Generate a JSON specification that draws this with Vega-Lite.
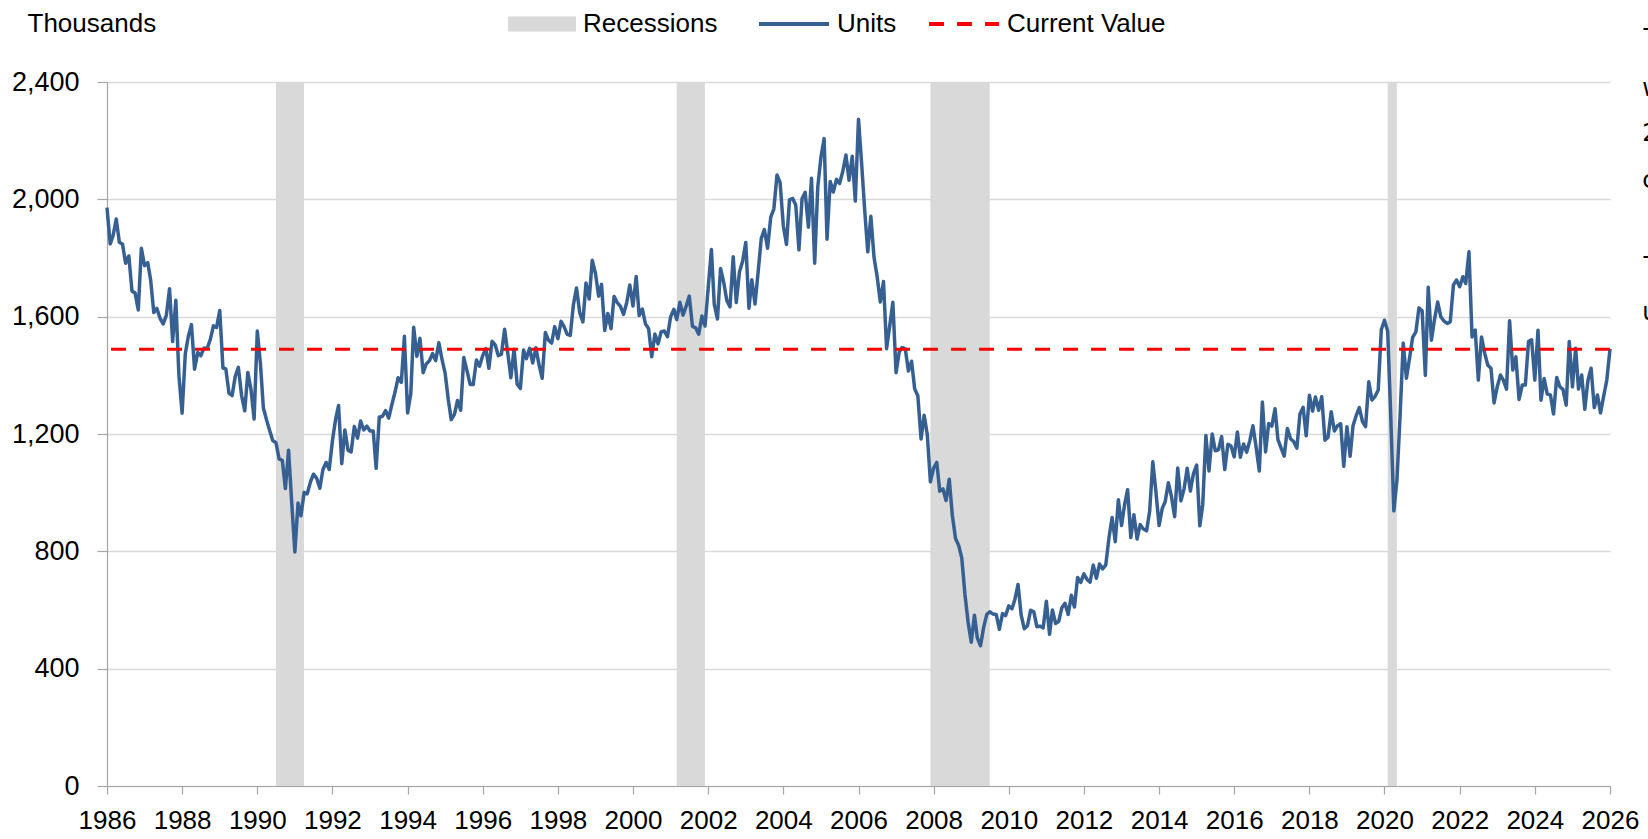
{
  "$schema": "https://vega.github.io/schema/vega-lite/v6.json",
  "width": 1503,
  "height": 704,
  "autosize": {"type": "none"},
  "padding": {"left": 107, "top": 82, "right": 38, "bottom": 53},
  "background": "white",
  "config": {
    "font": "Liberation Sans",
    "view": {"stroke": null},
    "legend": {"padding": 0, "labelFont": "Liberation Sans", "labelColor": "#000000"}
  },
  "datasets": {
    "rec": [
      {"start": "1990-07-01", "end": "1991-03-31", "s": "Recessions"},
      {"start": "2001-03-01", "end": "2001-11-30", "s": "Recessions"},
      {"start": "2007-12-01", "end": "2009-06-30", "s": "Recessions"},
      {"start": "2020-02-01", "end": "2020-04-30", "s": "Recessions"}
    ],
    "cur": [{"v": 1489, "s": "Current Value"}],
    "note": [
      {"d": "2026-11-10", "v": 2581, "t": "- Housing"},
      {"d": "2026-11-10", "v": 2376, "t": "were"},
      {"d": "2026-11-10", "v": 2223, "t": "2025"},
      {"d": "2026-11-10", "v": 2062, "t": "compared"},
      {"d": "2026-11-10", "v": 1803, "t": "- The"},
      {"d": "2026-11-10", "v": 1612, "t": "units"}
    ],
    "units": [
      {"d":"1986-01","v":1972,"s":"Units"},{"d":"1986-02","v":1848,"s":"Units"},{"d":"1986-03","v":1876,"s":"Units"},{"d":"1986-04","v":1933,"s":"Units"},{"d":"1986-05","v":1854,"s":"Units"},{"d":"1986-06","v":1847,"s":"Units"},{"d":"1986-07","v":1782,"s":"Units"},{"d":"1986-08","v":1807,"s":"Units"},{"d":"1986-09","v":1687,"s":"Units"},{"d":"1986-10","v":1681,"s":"Units"},{"d":"1986-11","v":1623,"s":"Units"},{"d":"1986-12","v":1833,"s":"Units"},
      {"d":"1987-01","v":1774,"s":"Units"},{"d":"1987-02","v":1784,"s":"Units"},{"d":"1987-03","v":1726,"s":"Units"},{"d":"1987-04","v":1614,"s":"Units"},{"d":"1987-05","v":1628,"s":"Units"},{"d":"1987-06","v":1594,"s":"Units"},{"d":"1987-07","v":1575,"s":"Units"},{"d":"1987-08","v":1605,"s":"Units"},{"d":"1987-09","v":1695,"s":"Units"},{"d":"1987-10","v":1515,"s":"Units"},{"d":"1987-11","v":1656,"s":"Units"},{"d":"1987-12","v":1400,"s":"Units"},
      {"d":"1988-01","v":1271,"s":"Units"},{"d":"1988-02","v":1473,"s":"Units"},{"d":"1988-03","v":1532,"s":"Units"},{"d":"1988-04","v":1573,"s":"Units"},{"d":"1988-05","v":1421,"s":"Units"},{"d":"1988-06","v":1478,"s":"Units"},{"d":"1988-07","v":1467,"s":"Units"},{"d":"1988-08","v":1493,"s":"Units"},{"d":"1988-09","v":1492,"s":"Units"},{"d":"1988-10","v":1522,"s":"Units"},{"d":"1988-11","v":1569,"s":"Units"},{"d":"1988-12","v":1563,"s":"Units"},
      {"d":"1989-01","v":1621,"s":"Units"},{"d":"1989-02","v":1425,"s":"Units"},{"d":"1989-03","v":1422,"s":"Units"},{"d":"1989-04","v":1339,"s":"Units"},{"d":"1989-05","v":1331,"s":"Units"},{"d":"1989-06","v":1397,"s":"Units"},{"d":"1989-07","v":1427,"s":"Units"},{"d":"1989-08","v":1332,"s":"Units"},{"d":"1989-09","v":1279,"s":"Units"},{"d":"1989-10","v":1410,"s":"Units"},{"d":"1989-11","v":1351,"s":"Units"},{"d":"1989-12","v":1251,"s":"Units"},
      {"d":"1990-01","v":1551,"s":"Units"},{"d":"1990-02","v":1437,"s":"Units"},{"d":"1990-03","v":1289,"s":"Units"},{"d":"1990-04","v":1248,"s":"Units"},{"d":"1990-05","v":1212,"s":"Units"},{"d":"1990-06","v":1177,"s":"Units"},{"d":"1990-07","v":1171,"s":"Units"},{"d":"1990-08","v":1115,"s":"Units"},{"d":"1990-09","v":1110,"s":"Units"},{"d":"1990-10","v":1014,"s":"Units"},{"d":"1990-11","v":1145,"s":"Units"},{"d":"1990-12","v":969,"s":"Units"},
      {"d":"1991-01","v":798,"s":"Units"},{"d":"1991-02","v":965,"s":"Units"},{"d":"1991-03","v":921,"s":"Units"},{"d":"1991-04","v":1001,"s":"Units"},{"d":"1991-05","v":996,"s":"Units"},{"d":"1991-06","v":1036,"s":"Units"},{"d":"1991-07","v":1063,"s":"Units"},{"d":"1991-08","v":1049,"s":"Units"},{"d":"1991-09","v":1015,"s":"Units"},{"d":"1991-10","v":1079,"s":"Units"},{"d":"1991-11","v":1103,"s":"Units"},{"d":"1991-12","v":1079,"s":"Units"},
      {"d":"1992-01","v":1176,"s":"Units"},{"d":"1992-02","v":1250,"s":"Units"},{"d":"1992-03","v":1297,"s":"Units"},{"d":"1992-04","v":1099,"s":"Units"},{"d":"1992-05","v":1214,"s":"Units"},{"d":"1992-06","v":1145,"s":"Units"},{"d":"1992-07","v":1139,"s":"Units"},{"d":"1992-08","v":1226,"s":"Units"},{"d":"1992-09","v":1186,"s":"Units"},{"d":"1992-10","v":1244,"s":"Units"},{"d":"1992-11","v":1214,"s":"Units"},{"d":"1992-12","v":1227,"s":"Units"},
      {"d":"1993-01","v":1210,"s":"Units"},{"d":"1993-02","v":1210,"s":"Units"},{"d":"1993-03","v":1083,"s":"Units"},{"d":"1993-04","v":1258,"s":"Units"},{"d":"1993-05","v":1260,"s":"Units"},{"d":"1993-06","v":1280,"s":"Units"},{"d":"1993-07","v":1254,"s":"Units"},{"d":"1993-08","v":1300,"s":"Units"},{"d":"1993-09","v":1343,"s":"Units"},{"d":"1993-10","v":1392,"s":"Units"},{"d":"1993-11","v":1376,"s":"Units"},{"d":"1993-12","v":1533,"s":"Units"},
      {"d":"1994-01","v":1272,"s":"Units"},{"d":"1994-02","v":1337,"s":"Units"},{"d":"1994-03","v":1564,"s":"Units"},{"d":"1994-04","v":1465,"s":"Units"},{"d":"1994-05","v":1526,"s":"Units"},{"d":"1994-06","v":1409,"s":"Units"},{"d":"1994-07","v":1439,"s":"Units"},{"d":"1994-08","v":1450,"s":"Units"},{"d":"1994-09","v":1474,"s":"Units"},{"d":"1994-10","v":1450,"s":"Units"},{"d":"1994-11","v":1511,"s":"Units"},{"d":"1994-12","v":1455,"s":"Units"},
      {"d":"1995-01","v":1407,"s":"Units"},{"d":"1995-02","v":1316,"s":"Units"},{"d":"1995-03","v":1249,"s":"Units"},{"d":"1995-04","v":1267,"s":"Units"},{"d":"1995-05","v":1314,"s":"Units"},{"d":"1995-06","v":1281,"s":"Units"},{"d":"1995-07","v":1461,"s":"Units"},{"d":"1995-08","v":1416,"s":"Units"},{"d":"1995-09","v":1369,"s":"Units"},{"d":"1995-10","v":1369,"s":"Units"},{"d":"1995-11","v":1452,"s":"Units"},{"d":"1995-12","v":1431,"s":"Units"},
      {"d":"1996-01","v":1467,"s":"Units"},{"d":"1996-02","v":1491,"s":"Units"},{"d":"1996-03","v":1424,"s":"Units"},{"d":"1996-04","v":1516,"s":"Units"},{"d":"1996-05","v":1504,"s":"Units"},{"d":"1996-06","v":1467,"s":"Units"},{"d":"1996-07","v":1472,"s":"Units"},{"d":"1996-08","v":1557,"s":"Units"},{"d":"1996-09","v":1475,"s":"Units"},{"d":"1996-10","v":1392,"s":"Units"},{"d":"1996-11","v":1489,"s":"Units"},{"d":"1996-12","v":1370,"s":"Units"},
      {"d":"1997-01","v":1355,"s":"Units"},{"d":"1997-02","v":1486,"s":"Units"},{"d":"1997-03","v":1457,"s":"Units"},{"d":"1997-04","v":1492,"s":"Units"},{"d":"1997-05","v":1442,"s":"Units"},{"d":"1997-06","v":1494,"s":"Units"},{"d":"1997-07","v":1437,"s":"Units"},{"d":"1997-08","v":1390,"s":"Units"},{"d":"1997-09","v":1546,"s":"Units"},{"d":"1997-10","v":1520,"s":"Units"},{"d":"1997-11","v":1510,"s":"Units"},{"d":"1997-12","v":1566,"s":"Units"},
      {"d":"1998-01","v":1525,"s":"Units"},{"d":"1998-02","v":1584,"s":"Units"},{"d":"1998-03","v":1567,"s":"Units"},{"d":"1998-04","v":1540,"s":"Units"},{"d":"1998-05","v":1536,"s":"Units"},{"d":"1998-06","v":1641,"s":"Units"},{"d":"1998-07","v":1698,"s":"Units"},{"d":"1998-08","v":1614,"s":"Units"},{"d":"1998-09","v":1582,"s":"Units"},{"d":"1998-10","v":1715,"s":"Units"},{"d":"1998-11","v":1660,"s":"Units"},{"d":"1998-12","v":1792,"s":"Units"},
      {"d":"1999-01","v":1748,"s":"Units"},{"d":"1999-02","v":1670,"s":"Units"},{"d":"1999-03","v":1710,"s":"Units"},{"d":"1999-04","v":1553,"s":"Units"},{"d":"1999-05","v":1611,"s":"Units"},{"d":"1999-06","v":1559,"s":"Units"},{"d":"1999-07","v":1669,"s":"Units"},{"d":"1999-08","v":1648,"s":"Units"},{"d":"1999-09","v":1635,"s":"Units"},{"d":"1999-10","v":1608,"s":"Units"},{"d":"1999-11","v":1648,"s":"Units"},{"d":"1999-12","v":1708,"s":"Units"},
      {"d":"2000-01","v":1636,"s":"Units"},{"d":"2000-02","v":1737,"s":"Units"},{"d":"2000-03","v":1604,"s":"Units"},{"d":"2000-04","v":1626,"s":"Units"},{"d":"2000-05","v":1575,"s":"Units"},{"d":"2000-06","v":1559,"s":"Units"},{"d":"2000-07","v":1463,"s":"Units"},{"d":"2000-08","v":1541,"s":"Units"},{"d":"2000-09","v":1507,"s":"Units"},{"d":"2000-10","v":1549,"s":"Units"},{"d":"2000-11","v":1551,"s":"Units"},{"d":"2000-12","v":1532,"s":"Units"},
      {"d":"2001-01","v":1600,"s":"Units"},{"d":"2001-02","v":1625,"s":"Units"},{"d":"2001-03","v":1590,"s":"Units"},{"d":"2001-04","v":1649,"s":"Units"},{"d":"2001-05","v":1605,"s":"Units"},{"d":"2001-06","v":1636,"s":"Units"},{"d":"2001-07","v":1670,"s":"Units"},{"d":"2001-08","v":1567,"s":"Units"},{"d":"2001-09","v":1562,"s":"Units"},{"d":"2001-10","v":1540,"s":"Units"},{"d":"2001-11","v":1602,"s":"Units"},{"d":"2001-12","v":1568,"s":"Units"},
      {"d":"2002-01","v":1698,"s":"Units"},{"d":"2002-02","v":1829,"s":"Units"},{"d":"2002-03","v":1642,"s":"Units"},{"d":"2002-04","v":1592,"s":"Units"},{"d":"2002-05","v":1764,"s":"Units"},{"d":"2002-06","v":1717,"s":"Units"},{"d":"2002-07","v":1655,"s":"Units"},{"d":"2002-08","v":1633,"s":"Units"},{"d":"2002-09","v":1804,"s":"Units"},{"d":"2002-10","v":1648,"s":"Units"},{"d":"2002-11","v":1753,"s":"Units"},{"d":"2002-12","v":1788,"s":"Units"},
      {"d":"2003-01","v":1853,"s":"Units"},{"d":"2003-02","v":1629,"s":"Units"},{"d":"2003-03","v":1726,"s":"Units"},{"d":"2003-04","v":1643,"s":"Units"},{"d":"2003-05","v":1751,"s":"Units"},{"d":"2003-06","v":1867,"s":"Units"},{"d":"2003-07","v":1897,"s":"Units"},{"d":"2003-08","v":1833,"s":"Units"},{"d":"2003-09","v":1939,"s":"Units"},{"d":"2003-10","v":1967,"s":"Units"},{"d":"2003-11","v":2083,"s":"Units"},{"d":"2003-12","v":2057,"s":"Units"},
      {"d":"2004-01","v":1911,"s":"Units"},{"d":"2004-02","v":1846,"s":"Units"},{"d":"2004-03","v":1998,"s":"Units"},{"d":"2004-04","v":2003,"s":"Units"},{"d":"2004-05","v":1981,"s":"Units"},{"d":"2004-06","v":1828,"s":"Units"},{"d":"2004-07","v":2002,"s":"Units"},{"d":"2004-08","v":2024,"s":"Units"},{"d":"2004-09","v":1905,"s":"Units"},{"d":"2004-10","v":2072,"s":"Units"},{"d":"2004-11","v":1782,"s":"Units"},{"d":"2004-12","v":2042,"s":"Units"},
      {"d":"2005-01","v":2144,"s":"Units"},{"d":"2005-02","v":2207,"s":"Units"},{"d":"2005-03","v":1864,"s":"Units"},{"d":"2005-04","v":2061,"s":"Units"},{"d":"2005-05","v":2025,"s":"Units"},{"d":"2005-06","v":2068,"s":"Units"},{"d":"2005-07","v":2054,"s":"Units"},{"d":"2005-08","v":2095,"s":"Units"},{"d":"2005-09","v":2151,"s":"Units"},{"d":"2005-10","v":2065,"s":"Units"},{"d":"2005-11","v":2147,"s":"Units"},{"d":"2005-12","v":1994,"s":"Units"},
      {"d":"2006-01","v":2273,"s":"Units"},{"d":"2006-02","v":2119,"s":"Units"},{"d":"2006-03","v":1969,"s":"Units"},{"d":"2006-04","v":1821,"s":"Units"},{"d":"2006-05","v":1942,"s":"Units"},{"d":"2006-06","v":1802,"s":"Units"},{"d":"2006-07","v":1737,"s":"Units"},{"d":"2006-08","v":1650,"s":"Units"},{"d":"2006-09","v":1720,"s":"Units"},{"d":"2006-10","v":1491,"s":"Units"},{"d":"2006-11","v":1570,"s":"Units"},{"d":"2006-12","v":1649,"s":"Units"},
      {"d":"2007-01","v":1409,"s":"Units"},{"d":"2007-02","v":1480,"s":"Units"},{"d":"2007-03","v":1495,"s":"Units"},{"d":"2007-04","v":1490,"s":"Units"},{"d":"2007-05","v":1415,"s":"Units"},{"d":"2007-06","v":1448,"s":"Units"},{"d":"2007-07","v":1354,"s":"Units"},{"d":"2007-08","v":1330,"s":"Units"},{"d":"2007-09","v":1183,"s":"Units"},{"d":"2007-10","v":1264,"s":"Units"},{"d":"2007-11","v":1197,"s":"Units"},{"d":"2007-12","v":1037,"s":"Units"},
      {"d":"2008-01","v":1084,"s":"Units"},{"d":"2008-02","v":1103,"s":"Units"},{"d":"2008-03","v":1005,"s":"Units"},{"d":"2008-04","v":1013,"s":"Units"},{"d":"2008-05","v":973,"s":"Units"},{"d":"2008-06","v":1046,"s":"Units"},{"d":"2008-07","v":923,"s":"Units"},{"d":"2008-08","v":844,"s":"Units"},{"d":"2008-09","v":820,"s":"Units"},{"d":"2008-10","v":777,"s":"Units"},{"d":"2008-11","v":652,"s":"Units"},{"d":"2008-12","v":560,"s":"Units"},
      {"d":"2009-01","v":490,"s":"Units"},{"d":"2009-02","v":582,"s":"Units"},{"d":"2009-03","v":505,"s":"Units"},{"d":"2009-04","v":478,"s":"Units"},{"d":"2009-05","v":540,"s":"Units"},{"d":"2009-06","v":585,"s":"Units"},{"d":"2009-07","v":594,"s":"Units"},{"d":"2009-08","v":586,"s":"Units"},{"d":"2009-09","v":585,"s":"Units"},{"d":"2009-10","v":534,"s":"Units"},{"d":"2009-11","v":588,"s":"Units"},{"d":"2009-12","v":581,"s":"Units"},
      {"d":"2010-01","v":614,"s":"Units"},{"d":"2010-02","v":604,"s":"Units"},{"d":"2010-03","v":636,"s":"Units"},{"d":"2010-04","v":687,"s":"Units"},{"d":"2010-05","v":583,"s":"Units"},{"d":"2010-06","v":536,"s":"Units"},{"d":"2010-07","v":546,"s":"Units"},{"d":"2010-08","v":599,"s":"Units"},{"d":"2010-09","v":594,"s":"Units"},{"d":"2010-10","v":543,"s":"Units"},{"d":"2010-11","v":545,"s":"Units"},{"d":"2010-12","v":539,"s":"Units"},
      {"d":"2011-01","v":630,"s":"Units"},{"d":"2011-02","v":517,"s":"Units"},{"d":"2011-03","v":600,"s":"Units"},{"d":"2011-04","v":554,"s":"Units"},{"d":"2011-05","v":561,"s":"Units"},{"d":"2011-06","v":608,"s":"Units"},{"d":"2011-07","v":623,"s":"Units"},{"d":"2011-08","v":585,"s":"Units"},{"d":"2011-09","v":650,"s":"Units"},{"d":"2011-10","v":610,"s":"Units"},{"d":"2011-11","v":711,"s":"Units"},{"d":"2011-12","v":694,"s":"Units"},
      {"d":"2012-01","v":723,"s":"Units"},{"d":"2012-02","v":704,"s":"Units"},{"d":"2012-03","v":695,"s":"Units"},{"d":"2012-04","v":753,"s":"Units"},{"d":"2012-05","v":708,"s":"Units"},{"d":"2012-06","v":757,"s":"Units"},{"d":"2012-07","v":740,"s":"Units"},{"d":"2012-08","v":754,"s":"Units"},{"d":"2012-09","v":847,"s":"Units"},{"d":"2012-10","v":915,"s":"Units"},{"d":"2012-11","v":833,"s":"Units"},{"d":"2012-12","v":976,"s":"Units"},
      {"d":"2013-01","v":888,"s":"Units"},{"d":"2013-02","v":962,"s":"Units"},{"d":"2013-03","v":1010,"s":"Units"},{"d":"2013-04","v":847,"s":"Units"},{"d":"2013-05","v":925,"s":"Units"},{"d":"2013-06","v":842,"s":"Units"},{"d":"2013-07","v":891,"s":"Units"},{"d":"2013-08","v":876,"s":"Units"},{"d":"2013-09","v":870,"s":"Units"},{"d":"2013-10","v":936,"s":"Units"},{"d":"2013-11","v":1105,"s":"Units"},{"d":"2013-12","v":1003,"s":"Units"},
      {"d":"2014-01","v":888,"s":"Units"},{"d":"2014-02","v":947,"s":"Units"},{"d":"2014-03","v":969,"s":"Units"},{"d":"2014-04","v":1034,"s":"Units"},{"d":"2014-05","v":987,"s":"Units"},{"d":"2014-06","v":918,"s":"Units"},{"d":"2014-07","v":1084,"s":"Units"},{"d":"2014-08","v":972,"s":"Units"},{"d":"2014-09","v":1013,"s":"Units"},{"d":"2014-10","v":1083,"s":"Units"},{"d":"2014-11","v":1006,"s":"Units"},{"d":"2014-12","v":1065,"s":"Units"},
      {"d":"2015-01","v":1094,"s":"Units"},{"d":"2015-02","v":887,"s":"Units"},{"d":"2015-03","v":959,"s":"Units"},{"d":"2015-04","v":1195,"s":"Units"},{"d":"2015-05","v":1074,"s":"Units"},{"d":"2015-06","v":1200,"s":"Units"},{"d":"2015-07","v":1143,"s":"Units"},{"d":"2015-08","v":1146,"s":"Units"},{"d":"2015-09","v":1191,"s":"Units"},{"d":"2015-10","v":1079,"s":"Units"},{"d":"2015-11","v":1165,"s":"Units"},{"d":"2015-12","v":1159,"s":"Units"},
      {"d":"2016-01","v":1122,"s":"Units"},{"d":"2016-02","v":1207,"s":"Units"},{"d":"2016-03","v":1121,"s":"Units"},{"d":"2016-04","v":1166,"s":"Units"},{"d":"2016-05","v":1138,"s":"Units"},{"d":"2016-06","v":1178,"s":"Units"},{"d":"2016-07","v":1228,"s":"Units"},{"d":"2016-08","v":1155,"s":"Units"},{"d":"2016-09","v":1074,"s":"Units"},{"d":"2016-10","v":1309,"s":"Units"},{"d":"2016-11","v":1139,"s":"Units"},{"d":"2016-12","v":1236,"s":"Units"},
      {"d":"2017-01","v":1227,"s":"Units"},{"d":"2017-02","v":1286,"s":"Units"},{"d":"2017-03","v":1181,"s":"Units"},{"d":"2017-04","v":1152,"s":"Units"},{"d":"2017-05","v":1125,"s":"Units"},{"d":"2017-06","v":1219,"s":"Units"},{"d":"2017-07","v":1184,"s":"Units"},{"d":"2017-08","v":1174,"s":"Units"},{"d":"2017-09","v":1152,"s":"Units"},{"d":"2017-10","v":1268,"s":"Units"},{"d":"2017-11","v":1291,"s":"Units"},{"d":"2017-12","v":1194,"s":"Units"},
      {"d":"2018-01","v":1332,"s":"Units"},{"d":"2018-02","v":1278,"s":"Units"},{"d":"2018-03","v":1326,"s":"Units"},{"d":"2018-04","v":1281,"s":"Units"},{"d":"2018-05","v":1327,"s":"Units"},{"d":"2018-06","v":1179,"s":"Units"},{"d":"2018-07","v":1189,"s":"Units"},{"d":"2018-08","v":1276,"s":"Units"},{"d":"2018-09","v":1210,"s":"Units"},{"d":"2018-10","v":1228,"s":"Units"},{"d":"2018-11","v":1235,"s":"Units"},{"d":"2018-12","v":1090,"s":"Units"},
      {"d":"2019-01","v":1225,"s":"Units"},{"d":"2019-02","v":1124,"s":"Units"},{"d":"2019-03","v":1228,"s":"Units"},{"d":"2019-04","v":1263,"s":"Units"},{"d":"2019-05","v":1290,"s":"Units"},{"d":"2019-06","v":1242,"s":"Units"},{"d":"2019-07","v":1225,"s":"Units"},{"d":"2019-08","v":1378,"s":"Units"},{"d":"2019-09","v":1316,"s":"Units"},{"d":"2019-10","v":1328,"s":"Units"},{"d":"2019-11","v":1350,"s":"Units"},{"d":"2019-12","v":1556,"s":"Units"},
      {"d":"2020-01","v":1588,"s":"Units"},{"d":"2020-02","v":1550,"s":"Units"},{"d":"2020-03","v":1269,"s":"Units"},{"d":"2020-04","v":938,"s":"Units"},{"d":"2020-05","v":1043,"s":"Units"},{"d":"2020-06","v":1265,"s":"Units"},{"d":"2020-07","v":1510,"s":"Units"},{"d":"2020-08","v":1390,"s":"Units"},{"d":"2020-09","v":1460,"s":"Units"},{"d":"2020-10","v":1530,"s":"Units"},{"d":"2020-11","v":1548,"s":"Units"},{"d":"2020-12","v":1630,"s":"Units"},
      {"d":"2021-01","v":1620,"s":"Units"},{"d":"2021-02","v":1400,"s":"Units"},{"d":"2021-03","v":1700,"s":"Units"},{"d":"2021-04","v":1520,"s":"Units"},{"d":"2021-05","v":1590,"s":"Units"},{"d":"2021-06","v":1650,"s":"Units"},{"d":"2021-07","v":1600,"s":"Units"},{"d":"2021-08","v":1585,"s":"Units"},{"d":"2021-09","v":1577,"s":"Units"},{"d":"2021-10","v":1582,"s":"Units"},{"d":"2021-11","v":1708,"s":"Units"},{"d":"2021-12","v":1725,"s":"Units"},
      {"d":"2022-01","v":1702,"s":"Units"},{"d":"2022-02","v":1736,"s":"Units"},{"d":"2022-03","v":1713,"s":"Units"},{"d":"2022-04","v":1821,"s":"Units"},{"d":"2022-05","v":1531,"s":"Units"},{"d":"2022-06","v":1554,"s":"Units"},{"d":"2022-07","v":1384,"s":"Units"},{"d":"2022-08","v":1531,"s":"Units"},{"d":"2022-09","v":1475,"s":"Units"},{"d":"2022-10","v":1435,"s":"Units"},{"d":"2022-11","v":1424,"s":"Units"},{"d":"2022-12","v":1306,"s":"Units"},
      {"d":"2023-01","v":1361,"s":"Units"},{"d":"2023-02","v":1401,"s":"Units"},{"d":"2023-03","v":1384,"s":"Units"},{"d":"2023-04","v":1353,"s":"Units"},{"d":"2023-05","v":1586,"s":"Units"},{"d":"2023-06","v":1418,"s":"Units"},{"d":"2023-07","v":1463,"s":"Units"},{"d":"2023-08","v":1318,"s":"Units"},{"d":"2023-09","v":1367,"s":"Units"},{"d":"2023-10","v":1367,"s":"Units"},{"d":"2023-11","v":1515,"s":"Units"},{"d":"2023-12","v":1521,"s":"Units"},
      {"d":"2024-01","v":1384,"s":"Units"},{"d":"2024-02","v":1554,"s":"Units"},{"d":"2024-03","v":1315,"s":"Units"},{"d":"2024-04","v":1389,"s":"Units"},{"d":"2024-05","v":1336,"s":"Units"},{"d":"2024-06","v":1333,"s":"Units"},{"d":"2024-07","v":1268,"s":"Units"},{"d":"2024-08","v":1393,"s":"Units"},{"d":"2024-09","v":1361,"s":"Units"},{"d":"2024-10","v":1352,"s":"Units"},{"d":"2024-11","v":1298,"s":"Units"},{"d":"2024-12","v":1515,"s":"Units"},
      {"d":"2025-01","v":1361,"s":"Units"},{"d":"2025-02","v":1492,"s":"Units"},{"d":"2025-03","v":1353,"s":"Units"},{"d":"2025-04","v":1401,"s":"Units"},{"d":"2025-05","v":1284,"s":"Units"},{"d":"2025-06","v":1384,"s":"Units"},{"d":"2025-07","v":1424,"s":"Units"},{"d":"2025-08","v":1290,"s":"Units"},{"d":"2025-09","v":1333,"s":"Units"},{"d":"2025-10","v":1272,"s":"Units"},{"d":"2025-11","v":1330,"s":"Units"},{"d":"2025-12","v":1384,"s":"Units"},
      {"d":"2026-01","v":1490,"s":"Units"}
    ]
  },
  "layer": [
    {
      "data": {"name": "rec"},
      "mark": {"type": "rect"},
      "encoding": {
        "x": {
          "field": "start", "type": "temporal",
          "scale": {"type": "utc", "domain": ["1986-01-01", "2026-01-01"]},
          "axis": {
            "title": null, "format": "%Y", "formatType": "utc",
            "tickCount": {"interval": "year", "step": 2},
            "grid": false, "domainColor": "#A6A6A6", "domainWidth": 1.2,
            "tickColor": "#A6A6A6", "tickSize": 8, "tickWidth": 1.2,
            "labelFontSize": 26, "labelColor": "#000000", "labelPadding": 13,
            "labelFont": "Liberation Sans", "labelFlush": false, "labelOverlap": false
          }
        },
        "x2": {"field": "end"},
        "fill": {
          "field": "s", "type": "nominal",
          "scale": {"domain": ["Recessions"], "range": ["#D9D9D9"]},
          "legend": {
            "orient": "none", "legendX": 401, "legendY": -92, "direction": "horizontal",
            "title": null, "symbolType": "M-1,-0.22H1V0.22H-1Z", "symbolSize": 4624,
            "symbolStrokeWidth": 0, "labelFontSize": 26, "labelOffset": 7
          }
        }
      }
    },
    {
      "data": {"name": "units"},
      "mark": {"type": "line", "strokeWidth": 3.5, "strokeJoin": "round"},
      "encoding": {
        "x": {"field": "d", "type": "temporal"},
        "y": {
          "field": "v", "type": "quantitative",
          "scale": {"domain": [0, 2400]},
          "axis": {
            "values": [0, 400, 800, 1200, 1600, 2000, 2400], "format": ",.0f",
            "grid": true, "gridColor": "#D9D9D9", "gridWidth": 1.3,
            "domainColor": "#A6A6A6", "domainWidth": 1.2,
            "tickColor": "#A6A6A6", "tickSize": 10, "tickWidth": 1.2,
            "labelFontSize": 27, "labelColor": "#000000", "labelPadding": 18,
            "labelFont": "Liberation Sans",
            "title": "Thousands", "titleAngle": 0, "titleX": -80, "titleY": -51,
            "titleAlign": "left", "titleBaseline": "alphabetic", "titleFontWeight": "normal",
            "titleFontSize": 26, "titleFont": "Liberation Sans", "titleColor": "#000000"
          }
        },
        "stroke": {
          "field": "s", "type": "nominal",
          "scale": {"domain": ["Units", "Current Value"], "range": ["#376092", "#FF0000"]},
          "legend": {
            "orient": "none", "legendX": 650, "legendY": -95, "direction": "horizontal",
            "title": null, "symbolType": "stroke", "symbolSize": 4900, "symbolStrokeWidth": 4,
            "labelFontSize": 26, "labelOffset": 6, "columnPadding": 24
          }
        },
        "strokeDash": {
          "field": "s", "type": "nominal",
          "scale": {"domain": ["Units", "Current Value"], "range": [[1, 0], [15, 13]]}
        }
      }
    },
    {
      "data": {"name": "cur"},
      "mark": {"type": "rule", "strokeWidth": 3.2},
      "encoding": {
        "y": {"field": "v", "type": "quantitative"},
        "stroke": {"field": "s", "type": "nominal"},
        "strokeDash": {"field": "s", "type": "nominal"}
      }
    },
    {
      "data": {"name": "note"},
      "mark": {"type": "text", "align": "left", "baseline": "middle", "fontSize": 24, "font": "DejaVu Sans", "color": "#000000", "clip": false},
      "encoding": {
        "x": {"field": "d", "type": "temporal"},
        "y": {"field": "v", "type": "quantitative"},
        "text": {"field": "t"}
      }
    }
  ]
}
